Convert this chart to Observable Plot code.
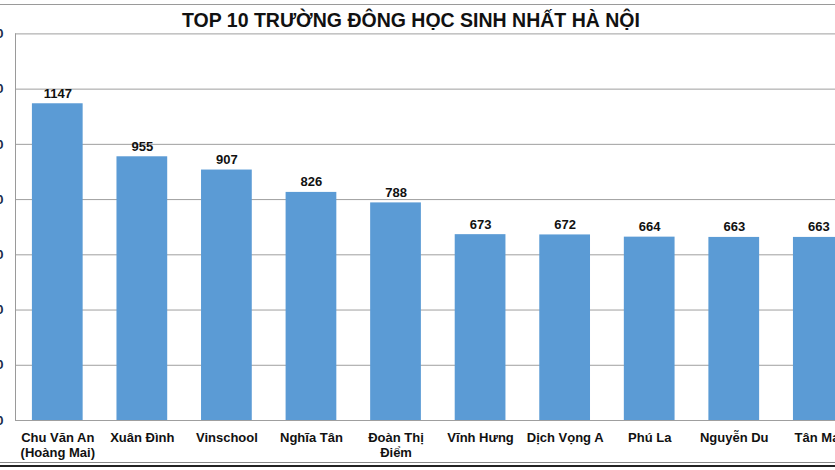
<!DOCTYPE html>
<html>
<head>
<meta charset="utf-8">
<script src="https://cdn.jsdelivr.net/npm/d3@7"></script>
<script src="https://cdn.jsdelivr.net/npm/@observablehq/plot@0.6"></script>
<style>
  html, body { margin: 0; padding: 0; background: #fff; overflow: hidden; }
  #wrap { position: relative; width: 835px; height: 470px; overflow: hidden; background: #fff;
          font-family: "Liberation Sans", Arial, sans-serif; }
  #title { position: absolute; left: 0; width: 822px; top: 8px; text-align: center;
           font-weight: bold; font-size: 19.5px; color: #111; line-height: 24px; }
  #topline { position: absolute; left: 0; right: 0; top: 4px; height: 1px; background: #9a9a9a; }
  #bot1 { position: absolute; left: 0; right: 0; top: 462px; height: 1px; background: #888; }
  #bot2 { position: absolute; left: 0; right: 0; top: 465px; height: 2px; background: #222; }
  #chart { position: absolute; left: 0; top: 0; }
</style>
</head>
<body>
<div id="wrap">
  <div id="topline"></div>
  <div id="title">TOP 10 TRƯỜNG ĐÔNG HỌC SINH NHẤT HÀ NỘI</div>
  <div id="chart"></div>
  <div id="bot1"></div>
  <div id="bot2"></div>
</div>
<script>
const schools = [
  "Chu Văn An\n(Hoàng Mai)", "Xuân Đình", "Vinschool", "Nghĩa Tân", "Đoàn Thị\nĐiểm",
  "Vĩnh Hưng", "Dịch Vọng A", "Phú La", "Nguyễn Du", "Tân Mai"
];
const students = [1147, 955, 907, 826, 788, 673, 672, 664, 663, 663];
const yTicks = [0, 200, 400, 600, 800, 1000, 1200, 1400];

const data = schools.map((s, i) => ({school: s, value: students[i]}));

const leftLine = (index, scales, values, dimensions) => {
  const g = d3.create("svg:g");
  g.append("line")
    .attr("x1", 15.5).attr("x2", 15.5)
    .attr("y1", scales.y(1400)).attr("y2", scales.y(0))
    .attr("stroke", "#9a9a9a").attr("stroke-width", 1);
  return g.node();
};

const chart = Plot.plot({
  width: 835,
  height: 470,
  marginTop: 33,
  marginBottom: 50,
  marginLeft: 15,
  marginRight: 0,
  style: {fontFamily: "'Liberation Sans', Arial, sans-serif", background: "transparent", overflow: "hidden"},
  x: {domain: schools, range: [15, 860.6], paddingInner: 0.4, paddingOuter: 0.2, round: false, label: null},
  y: {domain: [0, 1400], range: [420, 33.4], label: null},
  marks: [
    Plot.gridY(yTicks, {stroke: "#9f9f9f", strokeOpacity: 1, strokeWidth: 1}),
    leftLine,
    Plot.barY(data, {x: "school", y: "value", fill: "#5b9bd5"}),
    Plot.text(data, {x: "school", y: "value", text: d => String(d.value), dy: -6,
      lineAnchor: "bottom", fontWeight: "bold", fontSize: 13, fill: "#111"}),
    Plot.axisY(yTicks, {tickSize: 0, tickPadding: 12, fontSize: 13, fontWeight: "bold",
      fill: "#1a2a4a", label: null}),
    Plot.axisX({tickSize: 0, tickPadding: 10, fontSize: 13, fontWeight: "bold",
      fill: "#111", lineHeight: 1.2, label: null})
  ]
});
document.getElementById("chart").appendChild(chart);
</script>
</body>
</html>
